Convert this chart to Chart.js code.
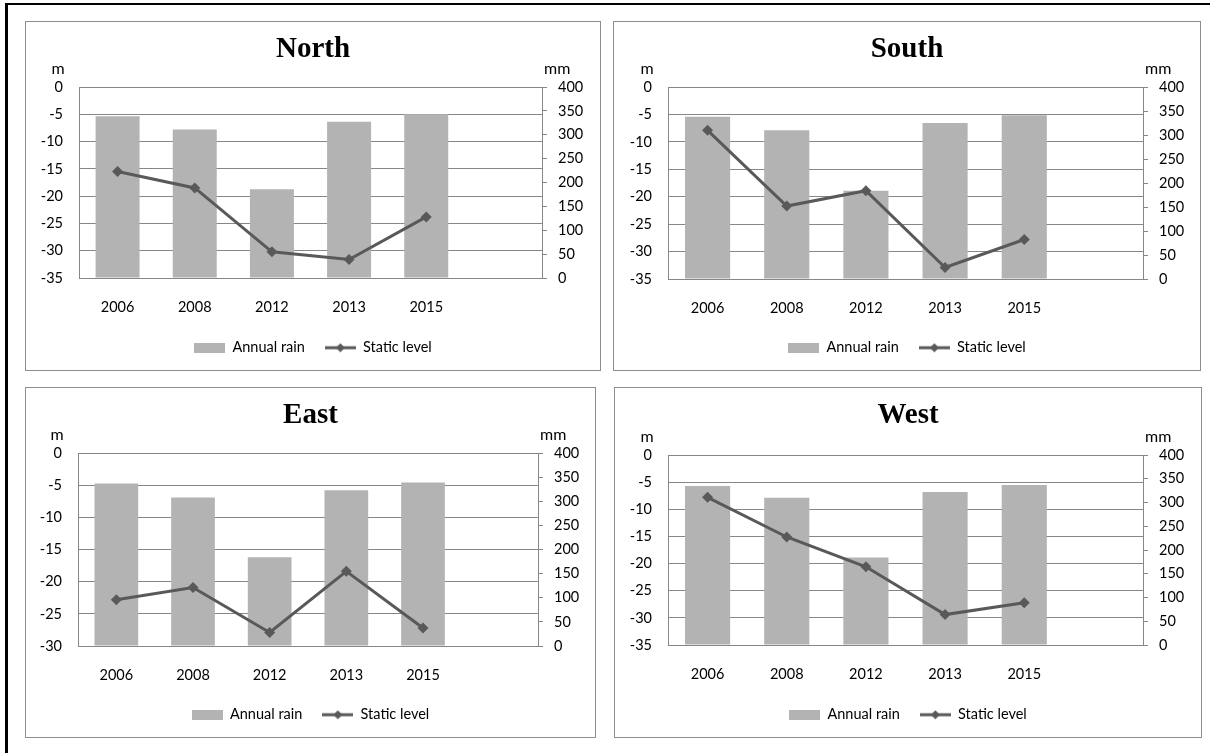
<!DOCTYPE html>
<html>
<head>
<meta charset="utf-8">
<script src="https://cdn.jsdelivr.net/npm/chart.js@4.4.0/dist/chart.umd.min.js"></script>
<style>
  html, body { margin: 0; padding: 0; background: #fff; }
  body { width: 1210px; height: 753px; position: relative; overflow: hidden; }
  .frame { position: absolute; left: 5px; top: 3px; width: 1300px; height: 800px;
           border-top: 2px solid #000; border-left: 3px solid #000; }
  .panel { position: absolute; box-sizing: border-box; border: 1px solid #8e8e8e; background: #fff; }
  .panel canvas { position: absolute; left: 0; top: 0; }
</style>
</head>
<body>
<div class="frame"></div>

<script>
// Years along the category axis
var years = ['2006', '2008', '2012', '2013', '2015'];

// Annual rain (mm) per region
var northRain = [339, 311, 186, 327, 343];
var southRain = [338, 310, 184, 325, 341];
var eastRain = [337, 308, 184, 323, 339];
var westRain = [335, 310, 184, 322, 337];

// Static water level (m) per region
var northLevel = [-15.5, -18.5, -30.2, -31.6, -23.8];
var southLevel = [-7.9, -21.7, -18.9, -32.9, -27.8];
var eastLevel = [-22.8, -20.9, -27.9, -18.4, -27.2];
var westLevel = [-7.8, -15.1, -20.6, -29.4, -27.2];

// Axis ranges
var levelMin = { North: -35, South: -35, East: -30, West: -35 };
var rainMax = 400;

// Panel boxes on the page: x, y, w, h and plot area left, right, top, bottom
var panels = [
    { name: 'North', rain: northRain, level: northLevel, x: 25, y: 21, w: 576, h: 350, plot: [79, 542, 87, 278] },
    { name: 'South', rain: southRain, level: southLevel, x: 613, y: 21, w: 588, h: 350, plot: [668, 1143, 87, 279] },
    { name: 'East', rain: eastRain, level: eastLevel, x: 25, y: 387, w: 571, h: 351, plot: [78, 538, 453, 646] },
    { name: 'West', rain: westRain, level: westLevel, x: 614, y: 387, w: 588, h: 351, plot: [668, 1143, 455, 645] }
];

var barColor = '#b3b3b3';
var lineColor = '#595959';
var gridColor = '#878787';

Chart.defaults.font.family = 'Lato, "Liberation Sans", sans-serif';
Chart.defaults.font.size = 14.5;
Chart.defaults.color = '#000';

// legend icons
var barIcon = document.createElement('canvas');
barIcon.width = 31; barIcon.height = 10;
var bctx = barIcon.getContext('2d');
bctx.fillStyle = barColor;
bctx.fillRect(0, 0, 31, 10);

var lineIcon = document.createElement('canvas');
lineIcon.width = 31; lineIcon.height = 10;
var lctx = lineIcon.getContext('2d');
lctx.strokeStyle = lineColor;
lctx.lineWidth = 3;
lctx.beginPath(); lctx.moveTo(0, 5); lctx.lineTo(31, 5); lctx.stroke();
lctx.fillStyle = lineColor;
lctx.beginPath(); lctx.moveTo(15.5, 0.5); lctx.lineTo(20, 5); lctx.lineTo(15.5, 9.5); lctx.lineTo(11, 5); lctx.closePath(); lctx.fill();

// "m" and "mm" above the two value axes
var unitLabels = {
    id: 'unitLabels',
    afterDraw: function (chart) {
        var a = chart.chartArea;
        var ctx = chart.ctx;
        ctx.save();
        ctx.font = '16px Lato, "Liberation Sans", sans-serif';
        ctx.fillStyle = '#000';
        ctx.textBaseline = 'alphabetic';
        ctx.textAlign = 'center';
        ctx.fillText('m', a.left - 21, a.top - 13);
        ctx.textAlign = 'left';
        ctx.fillText('mm', a.right + 2, a.top - 13);
        ctx.restore();
    }
};

panels.forEach(function (p) {
    var box = document.createElement('div');
    box.className = 'panel';
    box.style.left = p.x + 'px';
    box.style.top = p.y + 'px';
    box.style.width = p.w + 'px';
    box.style.height = p.h + 'px';
    var cv = document.createElement('canvas');
    var cw = p.w - 2, ch = p.h - 2;
    cv.width = cw; cv.height = ch;
    box.appendChild(cv);
    document.body.appendChild(box);

    var ox = p.x + 1, oy = p.y + 1;
    var pl = p.plot[0] - ox, pr = p.plot[1] - ox, pt = p.plot[2] - oy, pb = p.plot[3] - oy;
    var side = 10;
    var padBottom = 5;
    var legendH = 14.5 + 20 + 10;
    var xH = ch - padBottom - legendH - pb;
    var titleTop = 10;
    var titleBottom = pt - titleTop - 29 * 1.2;

    new Chart(cv, {
        data: {
            labels: years.concat(['']),
            datasets: [{
                type: 'bar',
                label: 'Annual rain',
                data: p.rain,
                yAxisID: 'yRain',
                backgroundColor: barColor,
                borderWidth: 0,
                categoryPercentage: 1,
                barPercentage: 0.57,
                order: 1
            }, {
                type: 'line',
                label: 'Static level',
                data: p.level,
                yAxisID: 'yLevel',
                borderColor: lineColor,
                backgroundColor: lineColor,
                borderWidth: 3,
                tension: 0,
                pointStyle: 'rectRot',
                pointRadius: 5.5,
                pointBackgroundColor: lineColor,
                pointBorderColor: lineColor,
                pointBorderWidth: 0,
                order: 0
            }]
        },
        options: {
            responsive: false,
            animation: false,
            layout: { padding: { left: side, right: side, top: 0, bottom: padBottom } },
            scales: {
                x: {
                    grid: { display: false },
                    border: { display: false },
                    ticks: { padding: 13, maxRotation: 0 },
                    afterFit: function (s) { s.height = xH; }
                },
                yLevel: {
                    position: 'left',
                    min: levelMin[p.name],
                    max: 0,
                    ticks: { stepSize: 5, padding: 16 },
                    grid: { color: gridColor, drawTicks: false },
                    border: { display: true, color: gridColor },
                    afterFit: function (s) { s.width = pl - side; }
                },
                yRain: {
                    position: 'right',
                    min: 0,
                    max: rainMax,
                    ticks: { stepSize: 50, padding: 11 },
                    grid: { drawOnChartArea: false, color: gridColor, tickLength: 5 },
                    border: { display: true, color: gridColor },
                    afterFit: function (s) { s.width = cw - pr - side; }
                }
            },
            plugins: {
                title: {
                    display: true,
                    text: p.name,
                    color: '#000',
                    font: { family: '"Liberation Serif", "Times New Roman", serif', size: 29, weight: 'bold' },
                    padding: { top: titleTop, bottom: titleBottom }
                },
                legend: {
                    position: 'bottom',
                    labels: {
                        usePointStyle: true,
                        pointStyleWidth: 31,
                        boxHeight: 10,
                        padding: 20,
                        color: '#000',
                        generateLabels: function (chart) {
                            return chart.data.datasets.map(function (ds, i) {
                                return {
                                    text: ds.label,
                                    pointStyle: ds.type === 'line' ? lineIcon : barIcon,
                                    fillStyle: ds.backgroundColor,
                                    strokeStyle: ds.backgroundColor,
                                    lineWidth: 0,
                                    hidden: !chart.isDatasetVisible(i),
                                    datasetIndex: i
                                };
                            });
                        }
                    }
                },
                tooltip: { enabled: false }
            }
        },
        plugins: [unitLabels]
    });
});
</script>
</body>
</html>
